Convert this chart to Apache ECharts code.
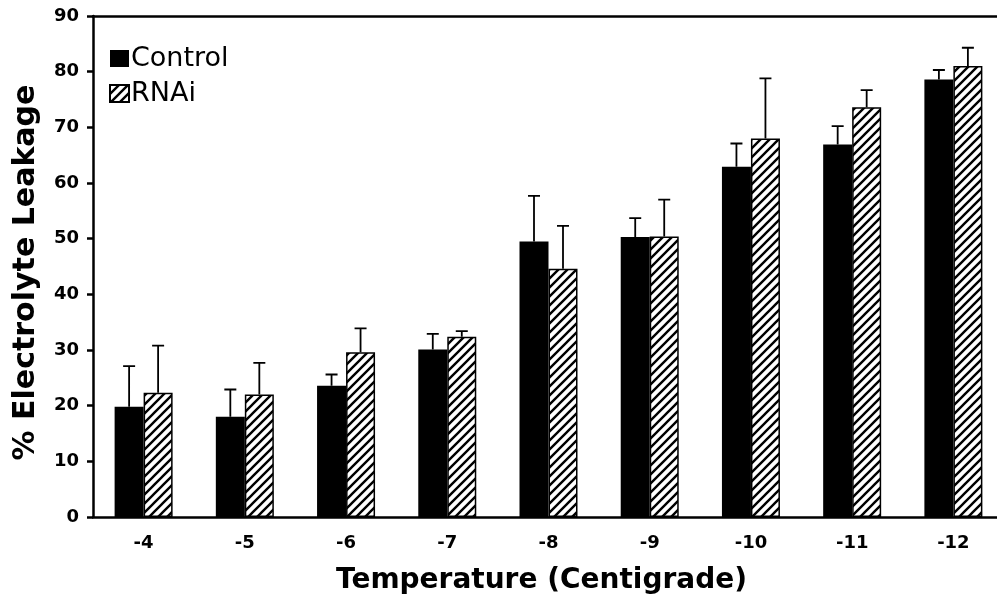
<!DOCTYPE html>
<html>
<head>
<meta charset="utf-8">
<script src="https://cdn.jsdelivr.net/npm/echarts@6/dist/echarts.min.js"></script>
<style>
    html, body { margin: 0; padding: 0; background: #fff; overflow: hidden; }
    #chart { width: 997px; height: 602px; }
</style>
</head>
<body>
<div id="chart"></div>
<script>
    var categories = ['-4', '-5', '-6', '-7', '-8', '-9', '-10', '-11', '-12'];

    var controlValues = [19.8, 18.0, 23.6, 30.1, 49.5, 50.3, 62.9, 66.9, 78.6];
    var controlErr    = [7.3, 4.9, 2.0, 2.8, 8.2, 3.4, 4.2, 3.3, 1.7];

    var rnaiValues = [22.3, 22.0, 29.6, 32.4, 44.6, 50.4, 68.0, 73.6, 81.0];
    var rnaiErr    = [8.5, 5.7, 4.3, 1.0, 7.7, 6.6, 10.8, 3.1, 3.3];

    var BAR_W = 29;
    var CAP_W = 12;
    var GRID_LEFT = 93;
    var GRID_RIGHT = -7;
    var FONT = 'DejaVu Sans';

    // diagonal hatch tile for the RNAi bars
    function makeHatch() {
        var size = 9;
        var c = document.createElement('canvas');
        c.width = size;
        c.height = size;
        var ctx = c.getContext('2d');
        ctx.fillStyle = '#fff';
        ctx.fillRect(0, 0, size, size);
        ctx.strokeStyle = '#000';
        ctx.lineWidth = 2.4;
        ctx.beginPath();
        ctx.moveTo(-2, size + 2); ctx.lineTo(size + 2, -2);
        ctx.moveTo(-2, 2);        ctx.lineTo(2, -2);
        ctx.moveTo(size - 2, size + 2); ctx.lineTo(size + 2, size - 2);
        ctx.stroke();
        return c;
    }

    var hatch = { image: makeHatch(), repeat: 'repeat' };

    var el = document.getElementById('chart');
    var catW = (el.clientWidth - GRID_LEFT - GRID_RIGHT) / categories.length;

    // error bars as broken line paths on a hidden value axis (category index units)
    function errSeries(values, errs, sign) {
        var shift = sign * (BAR_W / 2) / catW;
        var cap = (CAP_W / 2) / catW;
        var pts = [];
        values.forEach(function (v, i) {
            var x = i + shift;
            var top = v + errs[i];
            pts.push([x, v], [x, top], ['-', '-'], [x - cap, top], [x + cap, top], ['-', '-']);
        });
        return {
            type: 'line',
            xAxisIndex: 2,
            data: pts,
            symbol: 'none',
            silent: true,
            connectNulls: false,
            z: 1,
            lineStyle: { color: '#000', width: 1.8 }
        };
    }

    var chart = echarts.init(el);

    chart.setOption({
        animation: false,
        backgroundColor: '#fff',
        grid: {
            left: GRID_LEFT,
            right: GRID_RIGHT,
            top: 16,
            bottom: 85,
            containLabel: false,
            outerBoundsMode: 'none'
        },
        legend: {
            left: 104,
            top: 40,
            orient: 'vertical',
            icon: 'rect',
            itemWidth: 19,
            itemHeight: 17,
            itemGap: 8,
            textStyle: { fontFamily: FONT, fontSize: 27, color: '#000', padding: [0, 0, 0, -3] },
            data: ['Control', 'RNAi']
        },
        xAxis: [
            {
                type: 'category',
                data: categories,
                name: 'Temperature (Centigrade)',
                nameLocation: 'middle',
                nameGap: 50,
                nameTextStyle: { fontFamily: FONT, fontSize: 28, fontWeight: 'bold', color: '#000', padding: [0, 14, 0, 0] },
                axisLine: { onZero: false, lineStyle: { color: '#000', width: 2.5 } },
                axisTick: { length: 7, lineStyle: { color: '#000', width: 2.5 } },
                axisLabel: { fontFamily: FONT, fontSize: 18, fontWeight: 'bold', color: '#000', margin: 17 }
            },
            {
                // top frame line only
                type: 'category',
                data: categories,
                position: 'top',
                axisLine: { show: true, onZero: false, lineStyle: { color: '#000', width: 2.5 } },
                axisTick: { show: false },
                axisLabel: { show: false }
            },
            {
                // hidden helper axis for error bars
                type: 'value',
                min: -0.5,
                max: categories.length - 0.5,
                show: false
            }
        ],
        yAxis: {
            type: 'value',
            min: 0,
            max: 90,
            interval: 10,
            name: '% Electrolyte Leakage',
            nameLocation: 'middle',
            nameGap: 52,
            nameTextStyle: { fontFamily: FONT, fontSize: 30, fontWeight: 'bold', color: '#000', padding: [0, 12, 0, 0] },
            axisLine: { show: true, onZero: false, lineStyle: { color: '#000', width: 2.5 } },
            axisTick: { show: true, length: 6, lineStyle: { color: '#000', width: 2.5 } },
            splitLine: { show: false },
            axisLabel: { fontFamily: FONT, fontSize: 18, fontWeight: 'bold', color: '#000', margin: 14 }
        },
        series: [
            {
                name: 'Control',
                type: 'bar',
                data: controlValues,
                barWidth: BAR_W,
                barGap: '0%',
                z: 2,
                itemStyle: { color: '#000' }
            },
            {
                name: 'RNAi',
                type: 'bar',
                data: rnaiValues,
                barWidth: BAR_W,
                barGap: '0%',
                z: 2,
                itemStyle: { color: hatch, borderColor: '#000', borderWidth: 1.5 }
            },
            errSeries(controlValues, controlErr, -1),
            errSeries(rnaiValues, rnaiErr, 1)
        ]
    });
</script>
</body>
</html>
